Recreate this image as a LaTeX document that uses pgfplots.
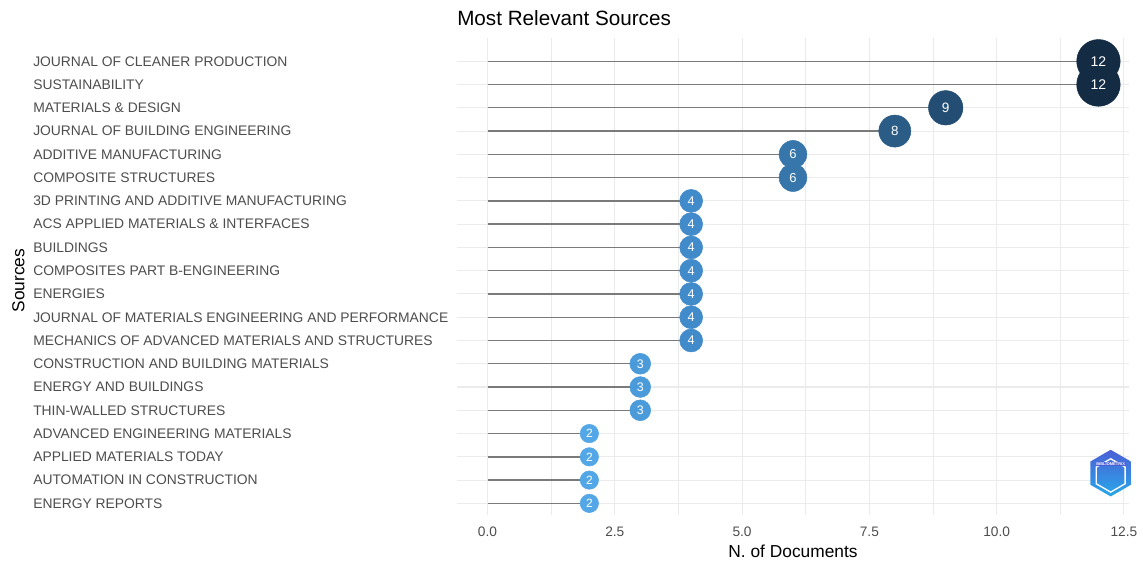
\documentclass[border=0pt]{standalone}
\usepackage{fontspec}
\setmainfont{Liberation Sans}
\usepackage{pgfplots}
\pgfplotsset{compat=1.18}
\usetikzlibrary{shapes.geometric}
\definecolor{c12}{HTML}{132B43}
\definecolor{c9}{HTML}{234D72}
\definecolor{c8}{HTML}{2A5C86}
\definecolor{c6}{HTML}{3676AA}
\definecolor{c4}{HTML}{428BCA}
\definecolor{c3}{HTML}{4B9BDB}
\definecolor{c2}{HTML}{54A7E6}
\definecolor{gridc}{HTML}{EBEBEB}
\definecolor{txtgray}{HTML}{4D4D4D}
\definecolor{seggray}{HTML}{7A7A7A}
\definecolor{logoA}{HTML}{4B5FD6}
\definecolor{logoB}{HTML}{27A9EA}
\pgfplotsset{lbl/.style={draw=none, mark=none, point meta=x,
  nodes near coords={\pgfmathprintnumber[fixed,precision=0]{\pgfplotspointmeta}},
  every node near coord/.append style={anchor=center, text=white, font=\fontsize{#1}{#1}\selectfont}}}
\begin{document}
\begin{tikzpicture}
\path[use as bounding box] (-342.75pt,-37.5pt) rectangle (514.5pt,386.25pt);
\begin{axis}[
  at={(0,0)}, anchor=south west,
  scale only axis, width=504pt, height=357.75pt,
  xmin=-0.6, xmax=12.6, ymin=-1, ymax=19.5, y dir=reverse,
  clip=false,
  /pgf/number format/assume math mode=true,
  xtick={0,2.5,5,7.5,10,12.5},
  minor xtick={1.25,3.75,6.25,8.75,11.25},
  ytick={0,...,19},
  yticklabels={{JOURNAL OF CLEANER PRODUCTION},{SUSTAINABILITY},{MATERIALS \& DESIGN},{JOURNAL OF BUILDING ENGINEERING},{ADDITIVE MANUFACTURING},{COMPOSITE STRUCTURES},{3D PRINTING AND ADDITIVE MANUFACTURING},{ACS APPLIED MATERIALS \& INTERFACES},{BUILDINGS},{COMPOSITES PART B-ENGINEERING},{ENERGIES},{JOURNAL OF MATERIALS ENGINEERING AND PERFORMANCE},{MECHANICS OF ADVANCED MATERIALS AND STRUCTURES},{CONSTRUCTION AND BUILDING MATERIALS},{ENERGY AND BUILDINGS},{THIN-WALLED STRUCTURES},{ADVANCED ENGINEERING MATERIALS},{APPLIED MATERIALS TODAY},{AUTOMATION IN CONSTRUCTION},{ENERGY REPORTS}},
  grid=both,
  major grid style={color=gridc, line width=0.8pt},
  minor grid style={color=gridc, line width=0.45pt},
  axis line style={draw=none},
  major tick length=0pt, minor tick length=0pt,
  xticklabel style={font=\fontsize{10.3}{12}\selectfont, text=txtgray, yshift=-5.5pt,
    /pgf/number format/.cd, fixed, fixed zerofill, precision=1},
  yticklabel style={font=\fontsize{10.4}{12}\selectfont, text=txtgray, anchor=west, inner sep=0pt, xshift=-318pt},
  xlabel={N. of Documents},
  ylabel={Sources},
  xlabel style={font=\fontsize{13}{15}\selectfont, at={(axis description cs:0.5,0)}, anchor=center, yshift=-27pt},
  ylabel style={font=\fontsize{13}{15}\selectfont, at={(axis description cs:0,0.5)}, anchor=center, rotate=0, yshift=329pt, xshift=-3pt},
  title={Most Relevant Sources},
  title style={font=\fontsize{15.5}{18}\selectfont, at={(axis description cs:0,1)}, anchor=west, inner sep=0pt, yshift=9pt},
]
% segments
\addplot[xcomb, color=seggray, line width=1pt, mark=none] coordinates {
(12,0) (12,1) (9,2) (8,3) (6,4) (6,5) (4,6) (4,7) (4,8) (4,9) (4,10) (4,11) (4,12) (3,13) (3,14) (3,15) (2,16) (2,17) (2,18) (2,19)};
% points
\addplot[only marks, mark=*, mark size=16.3pt, color=c12] coordinates {(12,0) (12,1)};
\addplot[only marks, mark=*, mark size=12.9pt, color=c9] coordinates {(9,2)};
\addplot[only marks, mark=*, mark size=12.0pt, color=c8] coordinates {(8,3)};
\addplot[only marks, mark=*, mark size=10.4pt, color=c6] coordinates {(6,4) (6,5)};
\addplot[only marks, mark=*, mark size=8.6pt, color=c4] coordinates {(4,6) (4,7) (4,8) (4,9) (4,10) (4,11) (4,12)};
\addplot[only marks, mark=*, mark size=7.8pt, color=c3] coordinates {(3,13) (3,14) (3,15)};
\addplot[only marks, mark=*, mark size=6.9pt, color=c2] coordinates {(2,16) (2,17) (2,18) (2,19)};
% labels
\addplot[lbl=10.5] coordinates {(12,0) (12,1)};
\addplot[lbl=10.2] coordinates {(9,2)};
\addplot[lbl=10] coordinates {(8,3)};
\addplot[lbl=9.8] coordinates {(6,4) (6,5)};
\addplot[lbl=9.5] coordinates {(4,6) (4,7) (4,8) (4,9) (4,10) (4,11) (4,12)};
\addplot[lbl=9.3] coordinates {(3,13) (3,14) (3,15)};
\addplot[lbl=9] coordinates {(2,16) (2,17) (2,18) (2,19)};
% logo
\node[regular polygon, regular polygon sides=6, regular polygon rotate=30, minimum size=35pt, inner sep=0pt,
  top color=logoA, bottom color=logoB, draw=none] at (axis cs:12.24,17.7) {};
\node[regular polygon, regular polygon sides=6, regular polygon rotate=30, minimum size=25pt, inner sep=0pt,
  draw=white, line width=1pt] at (axis cs:12.24,17.8) {};
\node[font=\fontsize{3}{3}\selectfont\bfseries, text=white, fill=logoA, inner sep=0.4pt] at (axis cs:12.24,17.3) {BIBLIOMETRIX};
\end{axis}
\end{tikzpicture}
\end{document}
